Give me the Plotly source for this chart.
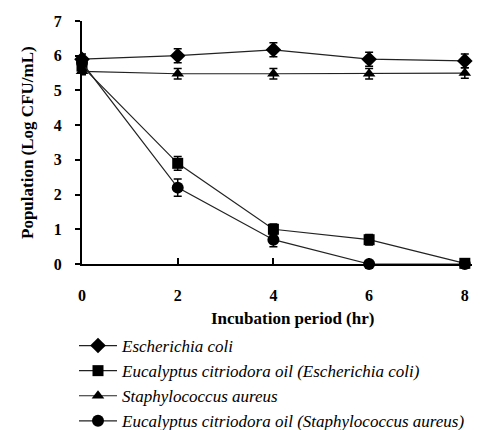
import plotly.graph_objects as go

hours = [0, 2, 4, 6, 8]
names = [
    "Escherichia coli",
    "Eucalyptus citriodora oil (Escherichia coli)",
    "Staphylococcus aureus",
    "Eucalyptus citriodora oil (Staphylococcus aureus)",
]
ecoli = [5.9, 6.0, 6.17, 5.9, 5.85]
ecoli_err = [0.15, 0.2, 0.2, 0.2, 0.2]
oil_ecoli = [5.7, 2.9, 1.0, 0.7, 0.02]
oil_ecoli_err = [0.15, 0.2, 0.15, 0.15, 0.05]
saureus = [5.55, 5.48, 5.48, 5.48, 5.5]
saureus_err = [0.1, 0.15, 0.15, 0.15, 0.15]
oil_saureus = [5.8, 2.2, 0.7, 0.0, 0.0]
oil_saureus_err = [0.15, 0.25, 0.2, 0.05, 0.0]

series = [ecoli, oil_ecoli, saureus, oil_saureus]
errors = [ecoli_err, oil_ecoli_err, saureus_err, oil_saureus_err]
symbols = ["diamond", "square", "triangle-up", "circle"]
sizes = [12, 11, 11, 12]

y_ticks = [0, 1, 2, 3, 4, 5, 6, 7]
x_ticks = [0, 2, 4, 6, 8]

serif = "Liberation Serif, DejaVu Serif, serif"

L, R, T, B = 82, 14, 21, 166
pw, ph = 486 - L - R, 430 - T - B
def px(xp):
    return (xp - L) / pw
def py(yp):
    return (430 - B - yp) / ph

fig = go.Figure()
for i in range(4):
    fig.add_trace(go.Scatter(
        x=hours, y=series[i], name="<i>" + names[i] + "</i>", mode="lines+markers",
        line=dict(color="#222222", width=1.2),
        marker=dict(symbol=symbols[i], size=sizes[i], color="black"),
        error_y=dict(type="data", array=errors[i], color="black", thickness=1.5, width=4),
        cliponaxis=False, legendgroup=str(i),
    ))

fig.update_layout(
    width=486, height=430,
    margin=dict(l=L, r=R, t=T, b=B, autoexpand=False),
    plot_bgcolor="white", paper_bgcolor="white",
    font=dict(family=serif, color="black"),
    showlegend=True,
    legend=dict(
        x=px(74), y=py(328), xanchor="left", yanchor="top",
        font=dict(family=serif, size=17),
        itemwidth=38,
        tracegroupgap=0, bgcolor="rgba(0,0,0,0)",
    ),
    xaxis=dict(
        range=[0, 8.15], tickvals=x_ticks, ticktext=[str(v) for v in x_ticks],
        showline=True, linecolor="black", linewidth=2, showgrid=False, zeroline=False,
        ticks="inside", ticklen=6, tickwidth=2, tickcolor="black",
        tickfont=dict(family=serif, size=16, weight="bold"), ticklabelstandoff=16,
    ),
    yaxis=dict(
        range=[0, 7], tickvals=y_ticks, ticktext=[str(v) for v in y_ticks],
        showline=True, linecolor="black", linewidth=2, showgrid=False, zeroline=False,
        ticks="outside", ticklen=5, tickwidth=2, tickcolor="black",
        tickfont=dict(family=serif, size=16, weight="bold"), ticklabelstandoff=10,
    ),
    annotations=[
        dict(text="Incubation period (hr)", x=px(292), y=py(318), xref="paper", yref="paper",
             xanchor="center", yanchor="middle",
             showarrow=False, font=dict(family=serif, size=17, weight="bold")),
        dict(text="Population (Log CFU/mL)", textangle=-90, showarrow=False,
             xref="paper", yref="paper", x=px(27), y=py(143),
             xanchor="center", yanchor="middle",
             font=dict(family=serif, size=17, weight="bold")),
    ],
)

fig.write_html("out.html")
